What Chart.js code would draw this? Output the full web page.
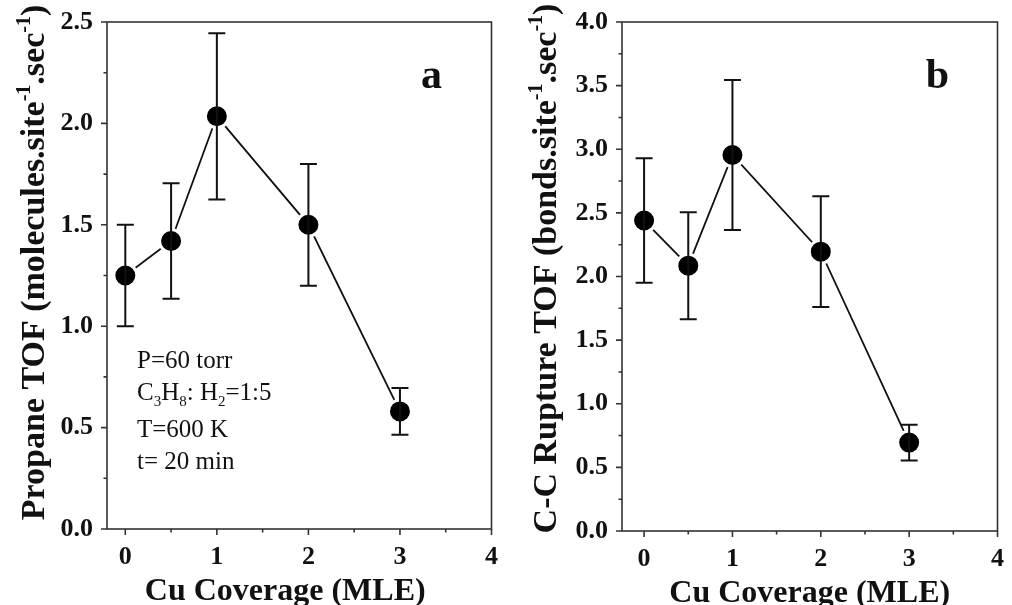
<!DOCTYPE html>
<html>
<head>
<meta charset="utf-8">
<script src="https://cdn.jsdelivr.net/npm/chart.js@4.4.0/dist/chart.umd.min.js"></script>
<style>
  body { margin: 0; background: #fff; }
  .panel { position: absolute; top: 0; width: 506px; height: 605px; }
</style>
</head>
<body>
<div class="panel" style="left:0"><canvas id="chartA" width="506" height="605"></canvas></div>
<div class="panel" style="left:506px"><canvas id="chartB" width="506" height="605"></canvas></div>
<script>
// data
const coverage = [0, 0.5, 1, 2, 3];
const propaneTof = [1.25, 1.42, 2.035, 1.50, 0.58];
const propaneErr = [0.25, 0.285, 0.41, 0.30, 0.115];
const ccRuptureTof = [2.44, 2.085, 2.955, 2.195, 0.695];
const ccRuptureErr = [0.49, 0.42, 0.59, 0.435, 0.14];

const xTicks = [0, 0.5, 1, 1.5, 2, 2.5, 3, 3.5, 4];
const yTicksA = [0, 0.25, 0.5, 0.75, 1, 1.25, 1.5, 1.75, 2, 2.25, 2.5];
const yTicksB = [0, 0.25, 0.5, 0.75, 1, 1.25, 1.5, 1.75, 2, 2.25, 2.5, 2.75, 3, 3.25, 3.5, 3.75, 4];

const serif = "'Liberation Serif', 'Times New Roman', serif";
const ink = '#111';

function isMajor(v, step) {
    return Math.abs(v / step - Math.round(v / step)) < 1e-6;
}

// error bars, frame, ticks, titles and the panel letter
const panelPlugin = {
    id: 'panel',
    afterDatasetsDraw(chart, args, opts) {
        const ctx = chart.ctx;
        const xs = chart.scales.x, ys = chart.scales.y;
        ctx.save();
        ctx.strokeStyle = ink;
        ctx.lineWidth = 2;
        opts.values.forEach(function (v, i) {
            const px = xs.getPixelForValue(opts.xValues[i]);
            const top = ys.getPixelForValue(v + opts.errors[i]);
            const bot = ys.getPixelForValue(v - opts.errors[i]);
            ctx.beginPath();
            ctx.moveTo(px, top); ctx.lineTo(px, bot);
            ctx.moveTo(px - 8.5, top); ctx.lineTo(px + 8.5, top);
            ctx.moveTo(px - 8.5, bot); ctx.lineTo(px + 8.5, bot);
            ctx.stroke();
        });
        ctx.restore();
    },
    afterDraw(chart, args, opts) {
        const ctx = chart.ctx;
        const a = chart.chartArea;
        const xs = chart.scales.x, ys = chart.scales.y;
        ctx.save();

        // frame
        ctx.strokeStyle = '#333';
        ctx.lineWidth = 1.6;
        ctx.strokeRect(a.left, a.top, a.right - a.left, a.bottom - a.top);

        // outward ticks
        ctx.beginPath();
        xs.ticks.forEach(function (t) {
            const px = xs.getPixelForValue(t.value);
            const len = isMajor(t.value, 1) ? 6 : 3.5;
            ctx.moveTo(px, a.bottom); ctx.lineTo(px, a.bottom + len);
        });
        ys.ticks.forEach(function (t) {
            const py = ys.getPixelForValue(t.value);
            const len = isMajor(t.value, 0.5) ? 6 : 3.5;
            ctx.moveTo(a.left, py); ctx.lineTo(a.left - len, py);
        });
        ctx.stroke();

        ctx.fillStyle = ink;

        // x title
        ctx.font = 'bold 32px ' + serif;
        ctx.textAlign = 'center';
        ctx.textBaseline = 'alphabetic';
        ctx.fillText(opts.xTitle, (a.left + a.right) / 2 + opts.xTitleShift, a.bottom + 71);

        // y title with superscripts
        ctx.save();
        ctx.translate(opts.yTitleX, (a.top + a.bottom) / 2 + opts.yTitleShift);
        ctx.rotate(-Math.PI / 2);
        drawRich(ctx, opts.yTitle, 34, true);
        ctx.restore();

        // panel letter
        ctx.font = 'bold 42px ' + serif;
        ctx.textAlign = 'center';
        ctx.fillText(opts.letter, a.right - 60, a.top + 66);

        // conditions note
        if (opts.note) {
            opts.note.forEach(function (line, i) {
                ctx.save();
                ctx.translate(a.left + 30, a.top + opts.noteBaselines[i]);
                drawRich(ctx, line, 25, false);
                ctx.restore();
            });
        }
        ctx.restore();
    }
};

// draws a list of [text, kind] pieces, kind: '' normal, 'sup', 'sub'
function drawRich(ctx, pieces, size, bold) {
    const w = bold ? 'bold ' : '';
    let total = 0;
    const widths = pieces.map(function (p) {
        ctx.font = w + (p[1] ? Math.round(size * 0.6) : size) + 'px ' + serif;
        const m = ctx.measureText(p[0]).width;
        total += m;
        return m;
    });
    let x = bold ? -total / 2 : 0;
    ctx.textAlign = 'left';
    ctx.textBaseline = 'alphabetic';
    pieces.forEach(function (p, i) {
        ctx.font = w + (p[1] ? Math.round(size * 0.6) : size) + 'px ' + serif;
        let dy = 0;
        if (p[1] === 'sup') dy = -size * 0.42;
        if (p[1] === 'sub') dy = size * 0.22;
        ctx.fillText(p[0], x, dy);
        x += widths[i];
    });
}

function makeChart(id, values, errors, yTicks, yMax, xMin, yWidth, extra) {
    const el = document.getElementById(id).getContext('2d');
    return new Chart(el, {
        type: 'line',
        data: {
            datasets: [{
                data: coverage.map(function (c, i) { return { x: c, y: values[i] }; }),
                borderColor: ink,
                borderWidth: 1.8,
                tension: 0,
                pointRadius: 11.5,
                pointHoverRadius: 11.5,
                pointBackgroundColor: '#000',
                pointBorderColor: '#fff',
                pointBorderWidth: 3
            }]
        },
        options: {
            responsive: false,
            animation: false,
            events: [],
            layout: { padding: { top: 22, right: extra.padRight, left: 0, bottom: 0 } },
            plugins: {
                legend: { display: false },
                tooltip: { enabled: false },
                panel: Object.assign({ values: values, errors: errors, xValues: coverage }, extra)
            },
            scales: {
                x: {
                    type: 'linear',
                    min: xMin,
                    max: 4,
                    grid: { display: false, drawTicks: false },
                    border: { display: false },
                    afterBuildTicks: function (s) { s.ticks = xTicks.map(function (v) { return { value: v }; }); },
                    afterFit: function (s) { s.height = extra.xHeight; s.paddingLeft = 0; s.paddingRight = 0; },
                    ticks: {
                        autoSkip: false,
                        maxRotation: 0,
                        padding: 13,
                        color: ink,
                        font: { family: serif, size: 26, weight: 'bold' },
                        callback: function (v) { return isMajor(v, 1) ? String(v) : ''; }
                    }
                },
                y: {
                    min: 0,
                    max: yMax,
                    grid: { display: false, drawTicks: false },
                    border: { display: false },
                    afterBuildTicks: function (s) { s.ticks = yTicks.map(function (v) { return { value: v }; }); },
                    afterFit: function (s) { s.width = yWidth; s.paddingTop = 0; s.paddingBottom = 0; },
                    ticks: {
                        autoSkip: false,
                        padding: 14,
                        color: ink,
                        font: { family: serif, size: 26, weight: 'bold' },
                        callback: function (v) { return isMajor(v, 0.5) ? v.toFixed(1) : ''; }
                    }
                }
            }
        },
        plugins: [panelPlugin]
    });
}

makeChart('chartA', propaneTof, propaneErr, yTicksA, 2.5, -0.2, 107, {
    padRight: 14,
    xHeight: 76,
    xTitle: 'Cu Coverage (MLE)',
    xTitleShift: -14,
    yTitleX: 44,
    yTitleShift: -13,
    yTitle: [['Propane TOF (molecules.site', ''], ['-1', 'sup'], ['.sec', ''], ['-1', 'sup'], [')', '']],
    letter: 'a',
    note: [
        [['P=60 torr', '']],
        [['C', ''], ['3', 'sub'], ['H', ''], ['8', 'sub'], [': H', ''], ['2', 'sub'], ['=1:5', '']],
        [['T=600 K', '']],
        [['t= 20 min', '']]
    ],
    noteBaselines: [346, 378, 415, 447]
});

makeChart('chartB', ccRuptureTof, ccRuptureErr, yTicksB, 4, -0.25, 116, {
    padRight: 2,
    xHeight: 74,
    xTitle: 'Cu Coverage (MLE)',
    xTitleShift: 0,
    yTitleX: 50,
    yTitleShift: -8,
    yTitle: [['C-C Rupture TOF (bonds.site', ''], ['-1', 'sup'], ['.sec', ''], ['-1', 'sup'], [')', '']],
    letter: 'b',
    note: null
});
</script>
</body>
</html>
